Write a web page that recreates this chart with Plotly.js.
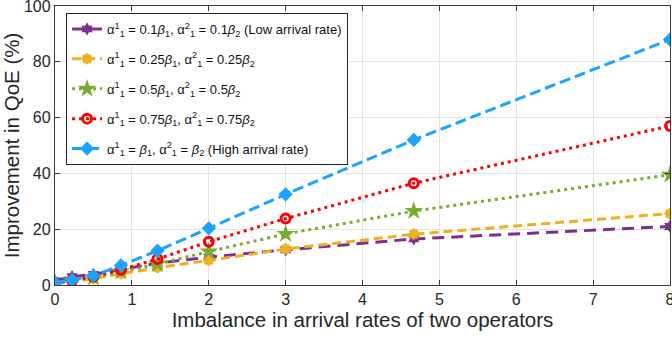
<!DOCTYPE html>
<html>
<head>
<meta charset="utf-8">
<script src="https://cdn.plot.ly/plotly-3.0.1.min.js"></script>
<style>html,body{margin:0;padding:0;background:#fff;}#chart{width:672px;height:338px;}</style>
</head>
<body>
<div id="chart"></div>
<script>
const imbalance = [0, 0.2222, 0.5, 0.8571, 1.3333, 2, 3, 4.6667, 8];
const lowRate   = [1.5, 3.0, 3.8, 5.5, 7.8, 10.0, 12.6, 16.5, 21.0];
const rate025   = [0.5, 1.2, 2.3, 4.0, 6.2, 8.8, 12.9, 18.2, 25.6];
const rate05    = [0.6, 1.4, 2.7, 4.8, 7.5, 12.0, 18.3, 26.5, 39.5];
const rate075   = [0.7, 1.7, 3.0, 5.5, 9.3, 15.5, 23.8, 36.5, 57.0];
const highRate  = [0.8, 1.8, 3.3, 7.0, 12.3, 20.3, 32.5, 52.0, 88.0];
const seriesNames = [
  'α<sup>1</sup><sub>1</sub> = 0.1<i>β</i><sub>1</sub>, α<sup>2</sup><sub>1</sub> = 0.1<i>β</i><sub>2</sub> (Low arrival rate)',
  'α<sup>1</sup><sub>1</sub> = 0.25<i>β</i><sub>1</sub>, α<sup>2</sup><sub>1</sub> = 0.25<i>β</i><sub>2</sub>',
  'α<sup>1</sup><sub>1</sub> = 0.5<i>β</i><sub>1</sub>, α<sup>2</sup><sub>1</sub> = 0.5<i>β</i><sub>2</sub>',
  'α<sup>1</sup><sub>1</sub> = 0.75<i>β</i><sub>1</sub>, α<sup>2</sup><sub>1</sub> = 0.75<i>β</i><sub>2</sub>',
  'α<sup>1</sup><sub>1</sub> = <i>β</i><sub>1</sub>, α<sup>2</sup><sub>1</sub> = <i>β</i><sub>2</sub> (High arrival rate)'
];
const xTicks = [0,1,2,3,4,5,6,7,8];
const yTicks = [0,20,40,60,80,100];

const styles = [
  {color:'#7E2F8E', dash:'12px,7px', symbol:'hexagram', size:10, mline:0},
  {color:'#EDB120', dash:'9px,5px', symbol:'asterisk-open', size:9, mline:3},
  {color:'#77AC30', dash:'3px,4px', symbol:'star', size:14, mline:0},
  {color:'#FF0000', dash:'3px,4px', symbol:'circle-open', size:9, mline:3},
  {color:'#1AA3FF', dash:'11px,5px', symbol:'diamond', size:11, mline:0}
];
const ys = [lowRate, rate025, rate05, rate075, highRate];
const traces = ys.map((y,i)=>({
  x: imbalance, y: y, name: seriesNames[i], type:'scatter', mode:'lines+markers',
  legendgroup:'g'+i,
  line:{color:styles[i].color, width:3, dash:styles[i].dash},
  marker:{color:styles[i].color, symbol:styles[i].symbol, size:styles[i].size,
          line:{color:styles[i].color, width:styles[i].mline}}
}));

const FONT = 'Liberation Sans, Arial, sans-serif';
const axisCommon = {
  showgrid:true, gridcolor:'#e3e3e3', gridwidth:1,
  showline:true, linecolor:'#3a3a3a', linewidth:1.2, mirror:'ticks',
  ticks:'inside', ticklen:5, tickcolor:'#3a3a3a',
  zeroline:false, ticklabeloverflow:'allow',
  tickfont:{family:FONT, size:16, color:'#262626'}
};

const layout = {
  width:672, height:338,
  margin:{l:55, r:2, t:6, b:53},
  paper_bgcolor:'#fff', plot_bgcolor:'#fff',
  showlegend:true,
  xaxis: Object.assign({}, axisCommon, {
    range:[0,8], tickvals:xTicks, ticktext:xTicks.map(String),
    title:{text:'Imbalance in arrival rates of two operators', standoff:2,
           font:{family:FONT, size:20.5, color:'#262626'}}
  }),
  yaxis: Object.assign({}, axisCommon, {
    range:[0,100], tickvals:yTicks, ticktext:yTicks.map(String),
    title:{text:'Improvement in QoE (%)', standoff:4,
           font:{family:FONT, size:20.5, color:'#262626'}}
  }),
  legend:{
    x:0.018, y:0.975, xanchor:'left', yanchor:'top',
    bgcolor:'#fff', bordercolor:'#262626', borderwidth:1,
    font:{family:FONT, size:13, color:'#111'},
    itemwidth:30, traceorder:'grouped', tracegroupgap:10
  }
};
Plotly.newPlot('chart', traces, layout, {displayModeBar:false, staticPlot:true});
</script>
</body>
</html>
